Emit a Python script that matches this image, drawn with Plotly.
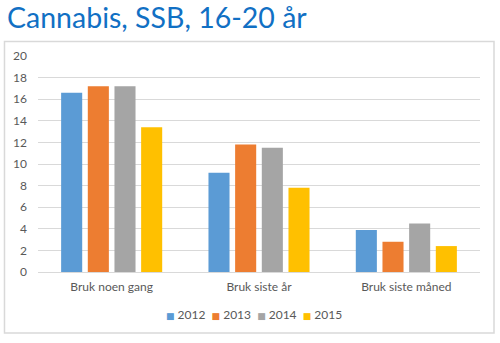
import plotly.graph_objects as go

categories = ["Bruk noen gang", "Bruk siste år", "Bruk siste måned"]
years = ["2012", "2013", "2014", "2015"]
v2012 = [16.6, 9.2, 3.9]
v2013 = [17.2, 11.8, 2.8]
v2014 = [17.2, 11.5, 4.5]
v2015 = [13.4, 7.8, 2.4]
colors = ["#5B9BD5", "#ED7D31", "#A5A5A5", "#FFC000"]
y_ticks = [0, 2, 4, 6, 8, 10, 12, 14, 16, 18, 20]

series = [v2012, v2013, v2014, v2015]
fig = go.Figure()
for name, vals, c in zip(years, series, colors):
    fig.add_trace(go.Bar(x=categories, y=vals, name=name, showlegend=False,
                         marker=dict(color=c, line=dict(width=0))))

font = "Lato, 'Open Sans', sans-serif"
fig.update_layout(
    width=500, height=343,
    margin=dict(l=38, r=20, t=56, b=71),
    paper_bgcolor="white", plot_bgcolor="white",
    barmode="group", bargap=0.276, bargroupgap=0.21,
    font=dict(family=font, size=12, color="#595959"),
    title=dict(text="Cannabis, SSB, 16-20 år", x=0.014, xanchor="left", xref="container",
               y=0.948, yanchor="middle", yref="container",
               font=dict(family=font, size=28.5, color="#1170C4")),
)
fig.update_xaxes(showgrid=False, showline=False, ticks="", ticklabelstandoff=6,
                 tickfont=dict(size=12, color="#595959"))
fig.update_yaxes(range=[0, 20], tickvals=y_ticks, showgrid=True, gridcolor="#D9D9D9",
                 gridwidth=1, zeroline=True, zerolinecolor="#D9D9D9", zerolinewidth=1,
                 showline=False, ticks="", ticklabelstandoff=10,
                 tickfont=dict(size=12, color="#595959"))
fig.add_shape(type="rect", xref="paper", yref="paper",
              x0=-0.0758, x1=1.0317, y0=-0.282, y1=1.067,
              line=dict(color="#D9D9D9", width=1.5), fillcolor="rgba(0,0,0,0)", layer="below")

# legend row built from the year / colour lists
legend_text = "  ".join(
    f"<span style='color:{c};font-size:9px;font-family:DejaVu Sans'>■</span> {y}"
    for y, c in zip(years, colors)
)
fig.add_annotation(text=legend_text, xref="paper", yref="paper", x=0.489, y=-0.199,
                   xanchor="center", yanchor="middle", showarrow=False,
                   font=dict(family=font, size=12, color="#595959"))

fig.write_html("out.html")
